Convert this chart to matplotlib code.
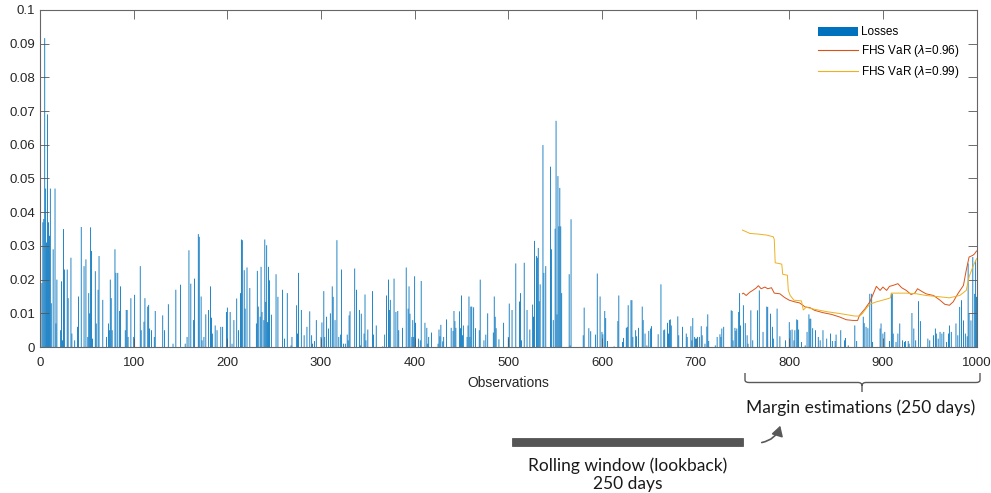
import numpy as np
import matplotlib
matplotlib.use("Agg")
import matplotlib.pyplot as plt
from matplotlib.patches import Patch, Rectangle, FancyArrowPatch, PathPatch
from matplotlib.lines import Line2D
from matplotlib.path import Path

loss_obs = [2, 3, 4, 5, 6, 7, 8, 9, 10, 11, 12, 14, 16, 17, 18, 22, 23, 24, 25, 26,
            29, 30, 33, 34, 37, 40, 41, 44, 47, 49, 51, 52, 53, 54, 55, 56, 59, 60, 62, 63,
            67, 71, 73, 74, 75, 76, 77, 80, 81, 83, 85, 86, 91, 92, 93, 94, 97, 100, 101, 107,
            108, 111, 112, 115, 116, 117, 119, 122, 123, 131, 133, 137, 142, 145, 150, 155, 157, 159, 161, 164,
            165, 169, 170, 172, 173, 175, 177, 180, 182, 183, 184, 187, 189, 193, 195, 199, 200, 203, 205, 207,
            210, 212, 214, 215, 216, 218, 219, 221, 224, 231, 232, 233, 235, 236, 237, 239, 240, 241, 242, 243,
            244, 245, 247, 252, 254, 259, 261, 264, 268, 269, 274, 275, 276, 279, 282, 285, 288, 290, 291, 293,
            295, 300, 301, 303, 304, 306, 308, 310, 312, 313, 315, 317, 319, 321, 322, 324, 326, 328, 329, 330,
            331, 336, 338, 341, 342, 343, 346, 347, 348, 350, 355, 356, 359, 366, 368, 370, 372, 373, 374, 378,
            380, 382, 383, 387, 391, 393, 394, 395, 397, 398, 399, 400, 401, 404, 406, 407, 411, 413, 414, 415,
            418, 425, 426, 427, 428, 430, 431, 434, 439, 441, 442, 443, 444, 448, 449, 450, 451, 452, 456, 457,
            458, 459, 460, 461, 463, 465, 469, 470, 474, 476, 478, 484, 485, 486, 487, 490, 495, 500, 501, 504,
            508, 512, 513, 514, 517, 520, 523, 526, 527, 528, 530, 531, 532, 533, 534, 537, 538, 540, 545, 546,
            548, 550, 551, 552, 553, 554, 555, 556, 557, 565, 566, 567, 580, 581, 586, 588, 593, 595, 598, 600,
            601, 603, 604, 606, 613, 617, 618, 622, 623, 626, 627, 628, 631, 632, 633, 636, 637, 639, 643, 644,
            646, 648, 650, 652, 653, 660, 663, 666, 667, 670, 671, 672, 673, 674, 681, 682, 686, 690, 691, 695,
            696, 697, 699, 700, 702, 704, 706, 707, 710, 712, 713, 714, 721, 723, 726, 727, 728, 730, 738, 739,
            740, 742, 743, 744, 746, 747, 748, 751, 753, 755, 756, 759, 761, 766, 768, 772, 776, 777, 780, 782,
            783, 787, 790, 796, 800, 801, 803, 805, 806, 808, 809, 810, 813, 817, 819, 821, 822, 823, 825, 828,
            831, 833, 836, 840, 844, 846, 849, 850, 855, 859, 860, 863, 870, 872, 879, 880, 882, 884, 886, 888,
            889, 897, 898, 900, 902, 907, 909, 910, 911, 914, 916, 918, 921, 923, 924, 927, 928, 931, 933, 935,
            938, 940, 948, 950, 954, 956, 957, 959, 961, 963, 965, 968, 970, 971, 973, 978, 980, 982, 984, 986,
            988, 990, 991, 992, 994, 996, 998, 999, 1000]
loss_val = [0.019, 0.037, 0.038, 0.0916, 0.047, 0.031, 0.069, 0.037, 0.033, 0.047, 0.013, 0.029, 0.047, 0.007, 0.020, 0.005, 0.0195, 0.002, 0.035, 0.023,
            0.023, 0.0145, 0.0265, 0.004, 0.002, 0.006, 0.015, 0.0356, 0.024, 0.026, 0.003, 0.016, 0.010, 0.0355, 0.0285, 0.0025, 0.0225, 0.007, 0.017, 0.027,
            0.014, 0.003, 0.007, 0.005, 0.020, 0.0145, 0.005, 0.029, 0.022, 0.022, 0.0107, 0.018, 0.005, 0.011, 0.011, 0.003, 0.0145, 0.003, 0.0155, 0.024,
            0.005, 0.0075, 0.0145, 0.012, 0.0125, 0.0055, 0.005, 0.003, 0.0107, 0.0094, 0.005, 0.0127, 0.001, 0.017, 0.0185, 0.001, 0.003, 0.0287, 0.0188, 0.008,
            0.0203, 0.0335, 0.0327, 0.015, 0.002, 0.003, 0.0097, 0.011, 0.018, 0.0087, 0.004, 0.0064, 0.005, 0.006, 0.006, 0.0104, 0.0117, 0.0104, 0.001, 0.008,
            0.0144, 0.005, 0.016, 0.0319, 0.0317, 0.0228, 0.0114, 0.0236, 0.0175, 0.007, 0.0226, 0.012, 0.009, 0.0238, 0.0104, 0.008, 0.0319, 0.0134, 0.0302, 0.0074,
            0.0238, 0.0198, 0.0096, 0.0216, 0.0149, 0.017, 0.0025, 0.016, 0.0005, 0.003, 0.0124, 0.004, 0.022, 0.011, 0.0035, 0.006, 0.0106, 0.0035, 0.001, 0.0018,
            0.008, 0.003, 0.0073, 0.0166, 0.003, 0.009, 0.0055, 0.010, 0.018, 0.0149, 0.008, 0.0317, 0.003, 0.0037, 0.023, 0.001, 0.001, 0.0037, 0.002, 0.0094,
            0.0106, 0.0233, 0.017, 0.011, 0.0005, 0.0099, 0.004, 0.0156, 0.002, 0.0052, 0.0166, 0.0037, 0.0064, 0.0002, 0.0037, 0.0153, 0.020, 0.011, 0.014, 0.0203,
            0.0104, 0.0107, 0.005, 0.0057, 0.0236, 0.0114, 0.018, 0.0099, 0.003, 0.008, 0.003, 0.021, 0.0072, 0.0025, 0.002, 0.0196, 0.0072, 0.0057, 0.001, 0.003,
            0.0043, 0.001, 0.0052, 0.0032, 0.0066, 0.0017, 0.003, 0.0082, 0.0057, 0.0048, 0.0107, 0.0077, 0.0057, 0.0106, 0.0056, 0.0153, 0.0035, 0.0064, 0.003, 0.0064,
            0.015, 0.003, 0.012, 0.012, 0.0118, 0.0056, 0.005, 0.020, 0.002, 0.0037, 0.010, 0.0043, 0.015, 0.009, 0.0056, 0.0023, 0.0072, 0.003, 0.0129, 0.011,
            0.0248, 0.0135, 0.016, 0.002, 0.025, 0.011, 0.0052, 0.0126, 0.009, 0.0315, 0.027, 0.0265, 0.0294, 0.0136, 0.0186, 0.0599, 0.022, 0.024, 0.0535, 0.029,
            0.008, 0.0351, 0.0671, 0.0097, 0.0507, 0.0358, 0.0472, 0.0358, 0.016, 0.0216, 0.0005, 0.0379, 0.0035, 0.0117, 0.0056, 0.0047, 0.0037, 0.0218, 0.015, 0.0045,
            0.0038, 0.0107, 0.0086, 0.0018, 0.0002, 0.0077, 0.0153, 0.0015, 0.0027, 0.0057, 0.006, 0.0124, 0.0139, 0.0139, 0.003, 0.005, 0.0032, 0.0057, 0.012, 0.008,
            0.004, 0.0005, 0.0048, 0.0055, 0.0062, 0.0038, 0.0186, 0.005, 0.0052, 0.0072, 0.004, 0.008, 0.0082, 0.0064, 0.0091, 0.0035, 0.006, 0.004, 0.003, 0.0062,
            0.002, 0.0086, 0.003, 0.0025, 0.003, 0.003, 0.0062, 0.0035, 0.001, 0.0061, 0.0097, 0.0018, 0.0005, 0.003, 0.0038, 0.003, 0.0055, 0.006, 0.0109, 0.0107,
            0.002, 0.0057, 0.0048, 0.0055, 0.0104, 0.016, 0.0064, 0.0124, 0.0071, 0.0035, 0.001, 0.0109, 0.002, 0.0109, 0.0168, 0.0045, 0.012, 0.0119, 0.0099, 0.006,
            0.0025, 0.0114, 0.0032, 0.002, 0.0074, 0.005, 0.0052, 0.002, 0.005, 0.0082, 0.008, 0.0052, 0.0015, 0.0005, 0.0045, 0.0097, 0.0084, 0.0084, 0.0056, 0.005,
            0.003, 0.002, 0.005, 0.0025, 0.004, 0.0018, 0.0018, 0.0037, 0.005, 0.002, 0.0027, 0.0005, 0.0064, 0.0018, 0.009, 0.0071, 0.006, 0.0056, 0.0158, 0.0158,
            0.0015, 0.0055, 0.007, 0.004, 0.0045, 0.0018, 0.0158, 0.0158, 0.004, 0.0015, 0.004, 0.007, 0.002, 0.0015, 0.0018, 0.0018, 0.001, 0.0101, 0.0055, 0.002,
            0.0136, 0.0077, 0.0025, 0.002, 0.0035, 0.0055, 0.004, 0.0025, 0.0045, 0.004, 0.0045, 0.0015, 0.004, 0.0064, 0.0045, 0.007, 0.0035, 0.0119, 0.0139, 0.0079,
            0.004, 0.0032, 0.0248, 0.0099, 0.0079, 0.0267, 0.0158, 0.0257, 0.0149]

# FHS VaR, lambda = 0.96
var96_obs = [750, 751, 754, 758, 761, 765, 767, 770, 774, 777, 781, 784, 790, 795, 800, 806, 811, 817,
             822, 827, 836, 845, 854, 861, 868, 873, 875, 881, 886, 889, 893, 897, 900, 904, 907, 911,
             916, 920, 925, 930, 934, 937, 941, 946, 954, 961, 966, 971, 975, 980, 986, 989, 992, 996, 998, 1000]
var96_val = [0.0158, 0.016, 0.0153, 0.0163, 0.0168, 0.0176, 0.0182, 0.0173, 0.0178, 0.0173, 0.0176, 0.016,
             0.0158, 0.0147, 0.0139, 0.0134, 0.0131, 0.0119, 0.0117, 0.0109, 0.0102, 0.0097, 0.0089, 0.0081,
             0.0079, 0.0079, 0.0094, 0.0114, 0.0134, 0.0153, 0.018, 0.0168, 0.0178, 0.0168, 0.018, 0.0183,
             0.0188, 0.0176, 0.0168, 0.0156, 0.016, 0.0173, 0.0166, 0.0158, 0.0153, 0.0139, 0.0127, 0.0124,
             0.0134, 0.0158, 0.0183, 0.0228, 0.0267, 0.0272, 0.0277, 0.0285]

# FHS VaR, lambda = 0.99
var99_obs = [750, 758, 767, 776, 783, 784, 785, 792, 793, 798, 799, 801, 805, 813, 815, 818, 827,
             840, 855, 870, 875, 878, 882, 886, 893, 906, 908, 909, 925, 936, 946, 961, 971, 982,
             989, 992, 996, 1000]
var99_val = [0.0347, 0.0337, 0.0335, 0.0332, 0.0327, 0.0319, 0.025, 0.0246, 0.0216, 0.0213, 0.0168, 0.0153,
             0.0139, 0.0137, 0.011, 0.0118, 0.0112, 0.0105, 0.0099, 0.0092, 0.0092, 0.0099, 0.0114, 0.0127,
             0.0134, 0.0144, 0.0146, 0.016, 0.016, 0.0158, 0.0153, 0.0149, 0.0146, 0.0153, 0.0168, 0.0208,
             0.0238, 0.0262]

n_obs = 1000
losses = np.zeros(n_obs)
losses[np.array(loss_obs) - 1] = loss_val

blue = '#0072BD'
red = '#D95319'
yellow = '#EDB120'
grey = '#262626'

fig = plt.figure(figsize=(9.91, 4.93), dpi=100)
ax = fig.add_axes([0.0404, 0.296, 0.9455, 0.684])

# snap=False so the sub-pixel bars are not rounded away
ax.bar(np.arange(1, n_obs + 1), losses, width=0.9, color=blue, linewidth=0, snap=False)
ax.plot(var96_obs, var96_val, color=red, lw=0.7)
ax.plot(var99_obs, var99_val, color=yellow, lw=0.7)

ax.set_xlim(0, 1000.5)
ax.set_ylim(0, 0.1)
ax.set_xticks(np.arange(0, 1001, 100))
ax.set_yticks(np.arange(0, 0.1001, 0.01))
ax.set_yticklabels(['0'] + ['%g' % v for v in np.round(np.arange(0.01, 0.1001, 0.01), 2)])
ax.tick_params(direction='in', length=6.5, width=0.6, colors='#555555', labelcolor=grey,
               labelsize=9.5, top=True, right=True)
ax.tick_params(axis='x', pad=7)
for s in ax.spines.values():
    s.set_color('#666666')
    s.set_linewidth(0.8)
for lab in ax.get_xticklabels() + ax.get_yticklabels():
    lab.set_family('Liberation Sans')
ax.set_xlabel('Observations', fontsize=10, family='Liberation Sans', color=grey, labelpad=5)

handles = [Patch(facecolor=blue, edgecolor='none'),
           Line2D([], [], color=red, lw=0.8),
           Line2D([], [], color=yellow, lw=0.8)]
labels = ['Losses', r'FHS VaR ($\lambda$=0.96)', r'FHS VaR ($\lambda$=0.99)']
leg = ax.legend(handles, labels, loc='upper right', bbox_to_anchor=(0.986, 0.965), frameon=False,
                prop={'family': 'Liberation Sans', 'size': 8.5}, handlelength=3.4, handleheight=0.85,
                handletextpad=0.2, labelspacing=0.42, borderaxespad=0)

# annotations below the axes, drawn in pixel space
ov = fig.add_axes([0, 0, 1, 1])
ov.set_xlim(0, 991)
ov.set_ylim(493, 0)
ov.axis('off')

bc = '#595959'
brace = Path([(745, 373), (745, 380), (745, 382.5), (749, 382.5),
              (858, 382.5), (862, 382.5), (862, 386), (862, 392),
              (862, 386), (862, 382.5), (866, 382.5),
              (976, 382.5), (980, 382.5), (980, 380), (980, 373)],
             [Path.MOVETO, Path.LINETO, Path.CURVE3, Path.CURVE3,
              Path.LINETO, Path.CURVE3, Path.CURVE3, Path.LINETO,
              Path.MOVETO, Path.CURVE3, Path.CURVE3,
              Path.LINETO, Path.CURVE3, Path.CURVE3, Path.LINETO])
ov.add_patch(PathPatch(brace, facecolor='none', edgecolor=bc, lw=1.0))

txt_font = dict(family='Lato', fontsize=12.5, color='#1a1a1a')
ov.text(861, 408, 'Margin estimations (250 days)', ha='center', va='center', **txt_font)

ov.add_patch(Rectangle((512, 438), 231, 8, facecolor='#555555', edgecolor='#444444', lw=0.5))
ov.add_patch(FancyArrowPatch((759, 443), (781, 423), connectionstyle='arc3,rad=0.35',
                             arrowstyle='-|>,head_length=6,head_width=3.5', color=bc, lw=1.2))

ov.text(628, 466, 'Rolling window (lookback)', ha='center', va='center', **txt_font)
ov.text(628, 484, '250 days', ha='center', va='center', **txt_font)

fig.savefig('out.png', dpi=100)
